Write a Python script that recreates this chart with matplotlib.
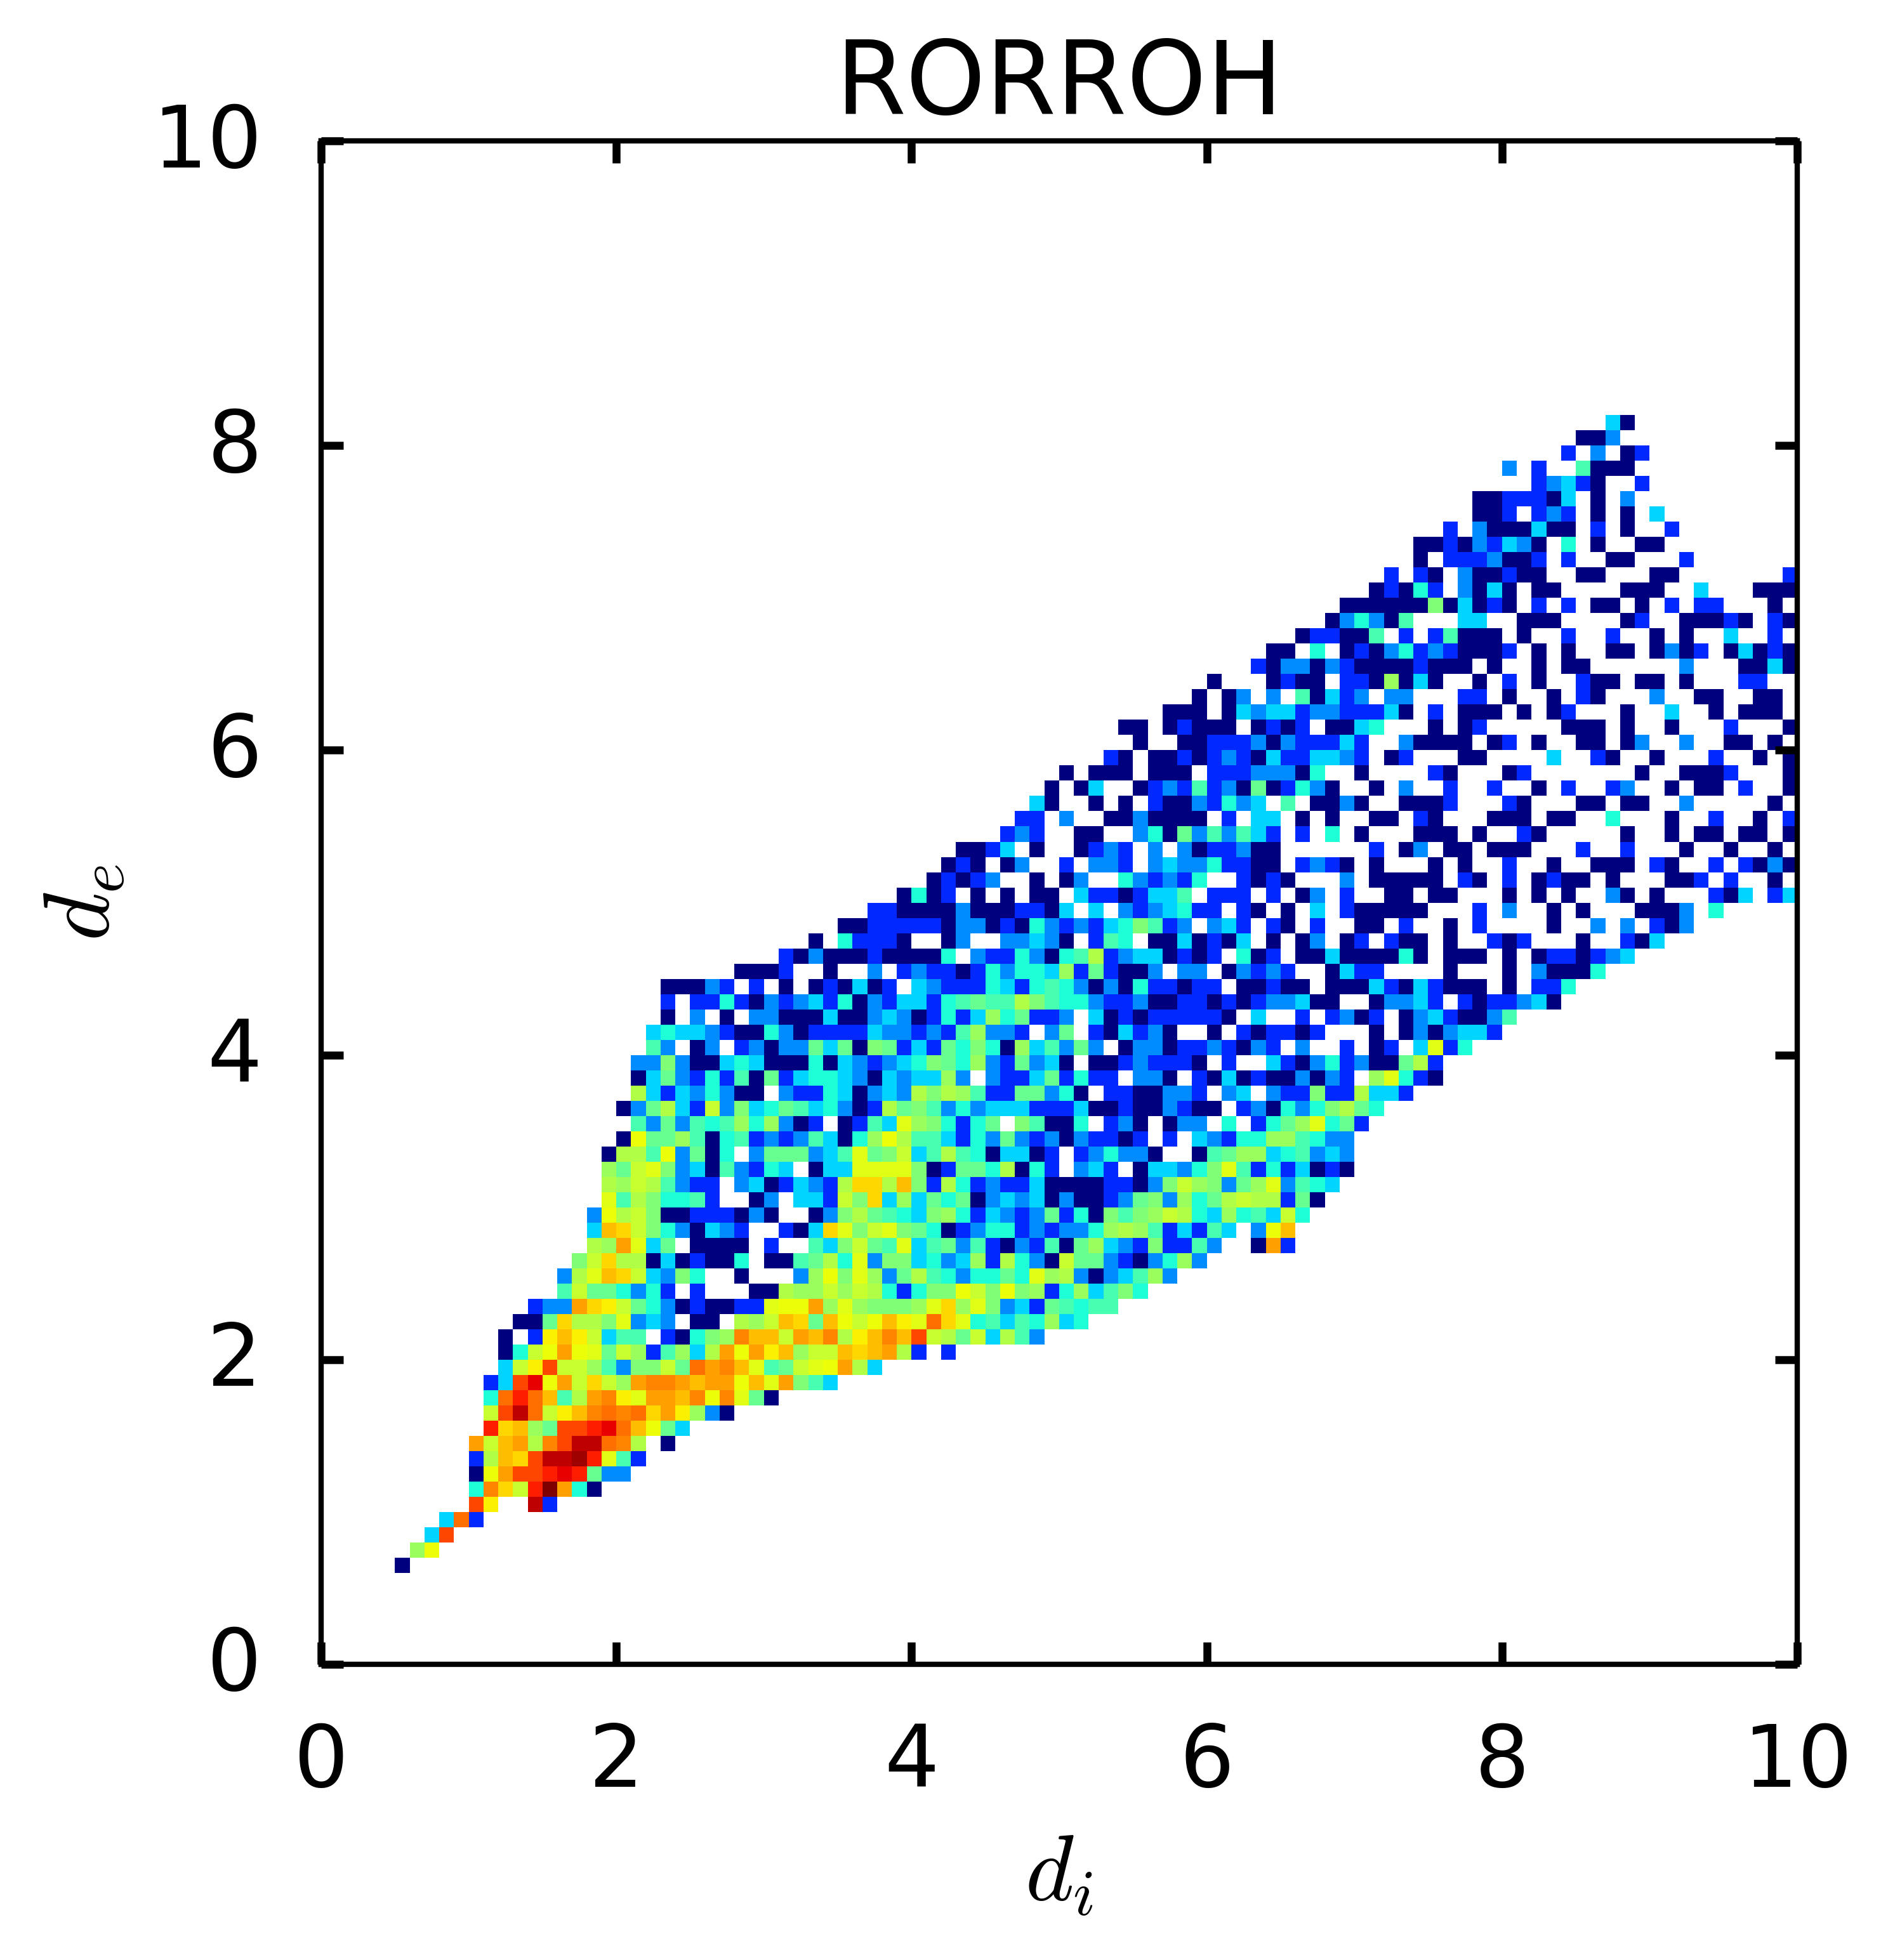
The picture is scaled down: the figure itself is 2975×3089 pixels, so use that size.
import numpy as np
import matplotlib
matplotlib.use("Agg")
import matplotlib.pyplot as plt
from matplotlib.transforms import ScaledTranslation

LEVEL_KEYS = "abcdefghijklmnopqrstuvwxy"
LEVEL_VALUES = [0.0, 0.165, 0.2625, 0.333, 0.387, 0.437, 0.474, 0.505, 0.537, 0.564,
                0.592, 0.623, 0.64, 0.656, 0.68, 0.7075, 0.74, 0.767, 0.79, 0.834,
                0.876, 0.91, 0.945, 0.97, 1.0]

X_TICKS = [0, 2, 4, 6, 8, 10]
Y_TICKS = [0, 2, 4, 6, 8, 10]
BIN = 0.1
FIRST_ROW = 6

# first occupied column of each row, rows go up from de = 0.6
ROW_START = [5, 6, 7, 8, 10, 10, 10, 10, 10, 11, 11, 11, 11, 12, 12, 12, 13, 14, 16, 16,
             17, 18, 18, 18, 19, 19, 19, 19, 20, 21, 20, 21, 21, 21, 22, 22, 23, 23, 23,
             28, 31, 33, 35, 37, 39, 41, 42, 43, 46, 47, 48, 49, 50, 53, 55, 54, 57, 59, 60,
             63, 64, 66, 68, 69, 71, 72, 74, 74, 76, 78, 78, 82, 80, 84, 85, 87]

ROW_CELLS = [
    "a",
    "im",
    "dt",
    "dsb",
    "tn..wb",
    "erokuyqea",
    "amqttuvugcc",
    "bjpotwwxulfb",
    "qkpqjrtwwsrj.a",
    "uopigttuvspmgd",
    "ktwsknprsrsoqnica",
    "esuspfjqrnlqqprmrlga",
    "bdtvmqkokiqrrqpqqmplqhfd",
    "dkntkkifchhkgsqrplfgklmqjd",
    "aekmqmlgkibfidjqmqnpikkpopqjb.b",
    "a.bnpnkdff.baehirppkqprjnprptkjgkdjfc",
    "aagojjhlcdc.aa.jikpogpmkmpnlsolefdfeide",
    "bccqonkgecabaabblmmqilihhhiloilhcdbgfeff",
    "fkggeceb.b...aajiikikjebehhmkhmhibeidfhe",
    "cjlpokdche..a...cimhlicgjfeceegelijcacdfic",
    "hkojjadabaae.aafgjelchhdecdibjecakggcbaceic",
    "jiqldg.aaaa.b..fdhkgfldfgcfbacbfagidcbhbbfc..aqb",
    "dpokhecadcb..badolhklhgeabceebcbcceijifbdbfd.cmp",
    "cmjkhaabbbaca..achjgfedhiebdcbcgbeahfhikjediefdke",
    "lfjheefb..ac.ddbkhodidgegacdcdacaabcghciegjkjjbga",
    "jikjfcbb.cdabdcbjoojphbjebcbbdaaaabbachkihcgilcfed",
    "igklhcdafcbed.addllllhabggejaeb.cdb.addcehlfbebdaba",
    "ajjfmcgae.cgggcdflghkdfjfeaddab.bcecca..afgiidefcdc",
    "amggifaefbcbcfdaeimjffdbecgcbcacbbab.b.dcbeeiifecc",
    "fcgcfefieicab.abfdlihebeg.hfaae.bca.acc.e.begilegb",
    "acgjdbkchdegfdecabjghfcecdddbbbdaabaacbaa.bcaecehjge",
    "jdbdcecaa.cbbedacdcjhjifbbggcea.bbaaccb.cd.cbbhbbjddb",
    "adgcbebfagbdeedcadcddic.cbbdgbebb.cca.badabaacacb.ileba",
    "cchcaadedaaaeadcbcdehgeicbgcda.aabcbbba.b..dbacebcaagjb",
    "fc.ac.bcaccgdgahgbdbgeheaidfcgc.accabbcbacb.c..b.ab.dlbe",
    "deddcbaaecabbbbdccbcbficcb.cg.badbca..a.babbab...a.acacddb",
    "a.c.a.ccaaadaacdcabebdiegbbc.dababbbbba.d..b.bcab.acdbaacf",
    "b.bbebacbcdbeacbddbefgffjhfeecbbcaabbababccdaa..accdb.babbcda",
    "aaacb.b.a.abadab.dcbbbedbefecacaebbabb.aabaa.aaadbadbaaa.a.bbe",
    "aaab..a..c.bcbbabeceedibgbaac.cc.acbcb..adbb....a...a.caaae",
    "bacaaabaaaae.cbbecaefjbcddabab.eab.aadaaaaea.aaa.a.abbabcd",
    "a.ebbba..ac..ccdca.bfe.aadabad.a.ac.ab.baa.a..bab...a..bad",
    "aabbbbbaccabaecbcbdehfbc.cdb.ba.b..aa.b..a.b....a..c.c.bac",
    "bbaaaacaaabbad.d.cbcdebb.ba.a.d.baaaaa...b.c..a.a...aaac.e",
    "aeab.a.a.aa.dbbabddf.bbb.b.ac.b..aa.aa...a.a.a..ca.a...bad.bd",
    "ababc..a.ac..ecbcbe..baba...c.aaaaa.ba.b.abaa.a...aab.b..a",
    "aba.ac..b.ccb.cdccebbaa.bcba.a...a.a..b..a..aaa.ba..b.baca",
    "aabd.a..abcb.c.cabbcaa......b.ac.aa.aaa...b..b...a..a..a",
    "bcb..aa..ceagcfcfdb.b.e.a...aaa.a..ba.....a..a.aa.aa.a",
    "bb.c..aacaaaa.b.dd.a.a..aa.ba...aaa.aa..e...a..b..a.b",
    "da..a.a.baacbecd.f.aaca..aaab...ba...aa.aa..c.....a",
    "a.ad..abcbfbcagabeca..a.c..b..b..a.b..bc..a.aa.b..a",
    "a.aaa.aaa.bbbcccae..a....ba...ab.......a..aaab...a",
    "ba.aababcbadbbddcb.ab...aa....d..ba..a...b..a.a",
    "a..aabbbcacbbbdb..caaaa.ab.a..aa.ac..c..aa.a",
    "aa.abaaa.abab.aade...a.ab.....aaa.a..a...b...a",
    "aaa.adcddbccbbbda.b.aaa.a.ab...a..d..a.aaa",
    "a.ac.c.fadbc.cc...bb.a..a.ba...c..aa..aa",
    "a...abaa.bbaiada..a.b.a..baa.aa.a...bb",
    "baccacbaaaabaaa.a..a.aa......c...aada",
    "aa.e.abacebcbaaab.a.a..aa.acab.adaba",
    "abbaaf.b.bfaaa.a..b..b..a.a..d..b",
    "acecaf...dd..aaa....ab..aaaba.ba",
    "aaaaaahadaba.b.b.aa.a.b.bb...a",
    "abaeb.cada.aa....aaa..d...aaa",
    "b.ba.caabaa..aa...aa.......b",
    "a.bbbcaab.b..aa...b",
    "aabacbdca.e.a..aa",
    "b.caaadaa.b.a..b",
    "aab.bcb.a.a.d",
    "aabbbad.a.c",
    "bcdba..b",
    "c.b..faaa",
    "b.c.ab",
    "aac",
    "da",
]

plt.rcParams["font.family"] = "DejaVu Sans"
plt.rcParams["mathtext.fontset"] = "cm"

grid = np.full((100, 100), np.nan)
for i, cells in enumerate(ROW_CELLS):
    for j, ch in enumerate(cells):
        if ch != "." and ROW_START[i] + j < 100:
            grid[FIRST_ROW + i, ROW_START[i] + j] = LEVEL_VALUES[LEVEL_KEYS.index(ch)]

fig = plt.figure(figsize=(2975 / 600, 3089 / 600), dpi=600)
ax = fig.add_axes([506 / 2975, 1 - 2623 / 3089, 2326 / 2975, 2401 / 3089])

cmap = plt.get_cmap("jet").copy()
cmap.set_bad("white")
ax.imshow(np.ma.masked_invalid(grid), origin="lower", extent=[0, BIN * 100, 0, BIN * 100],
          cmap=cmap, vmin=0, vmax=1, aspect="auto", interpolation="nearest")

ax.set_xlim(0, 10)
ax.set_ylim(0, 10)
ax.set_xticks(X_TICKS)
ax.set_yticks(Y_TICKS)
ax.tick_params(which="major", direction="in", top=True, right=True, length=4.2, width=1.5,
               labelsize=16.3)
ax.tick_params(axis="x", pad=10.8)
ax.tick_params(axis="y", pad=11.2)
for sp in ax.spines.values():
    sp.set_linewidth(1.0)

# y labels sit a little above their ticks in the original
up = ScaledTranslation(0, 1.2 / 72, fig.dpi_scale_trans)
for lab in ax.get_yticklabels():
    lab.set_transform(lab.get_transform() + up)

ax.set_title("RORROH", fontsize=19.2, pad=5, x=0.5)
ax.set_xlabel(r"$d_i$", fontsize=17.5, labelpad=4.7)
ax.set_ylabel(r"$d_e$", fontsize=17.5, labelpad=4.7)

fig.savefig("out.png", dpi=600)
